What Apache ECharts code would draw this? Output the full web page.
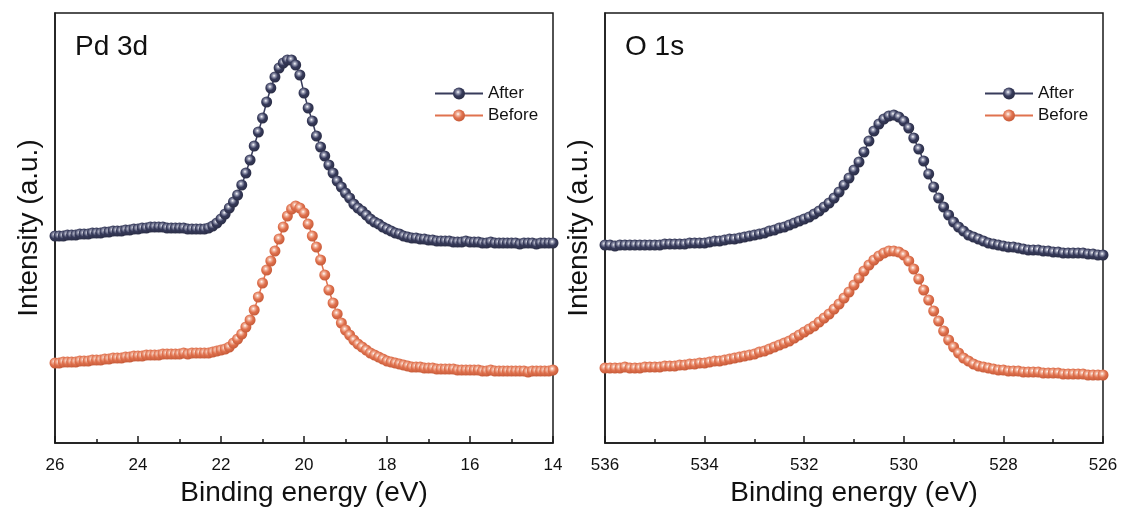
<!DOCTYPE html>
<html>
<head>
<meta charset="utf-8">
<script src="https://cdn.jsdelivr.net/npm/echarts@6/dist/echarts.min.js"></script>
<style>html,body{margin:0;padding:0;background:#fff}#chart{width:1123px;height:508px}</style>
</head>
<body>
<div id="chart"></div>
<script>
// Pd 3d panel: binding energy 26.0 -> 14.0 eV, step 0.1 eV
const pdStart = 26.0, pdStep = -0.1;
const pdAfter = [207,207,207,208,208,208,209,209,209,210,
 210,210,211,211,212,212,212,213,213,214,
 214,215,215,216,216,216,216,215,215,215,
 215,215,214,214,214,214,214,215,217,220,
 224,229,235,241,248,258,270,283,297,311,
 325,341,355,366,375,380,383,383,378,368,
 350,335,322,307,296,287,278,270,262,256,
 250,245,239,235,232,228,224,221,219,216,
 214,212,210,209,207,206,205,205,204,204,
 203,203,202,202,202,202,201,201,201,202,
 201,201,201,200,200,201,200,200,200,200,
 200,200,199,200,200,200,199,200,200,200,
 200];
const pdBefore = [80,80,81,81,81,81,82,82,82,83,
 83,83,84,84,85,85,85,86,86,87,
 87,87,88,88,88,88,89,89,89,89,
 89,90,89,90,90,90,90,90,91,92,
 93,94,96,100,104,109,116,123,133,146,
 160,173,182,192,204,216,227,234,237,235,
 230,219,207,196,183,168,153,140,129,120,
 113,108,103,99,96,93,90,88,86,84,
 82,81,80,79,78,77,76,76,76,75,
 75,75,74,74,74,74,74,73,73,73,
 73,73,73,72,72,73,72,72,72,72,
 72,72,72,72,71,72,72,72,72,72,
 73];
// O 1s panel: binding energy 536.0 -> 526.0 eV, step 0.1 eV
const oStart = 536.0, oStep = -0.1;
const oAfter = [198,198,197,198,198,198,198,198,198,198,
 198,198,199,199,199,199,199,200,200,200,
 200,201,202,202,203,204,204,205,206,207,
 208,209,210,212,213,215,216,218,220,222,
 224,226,229,232,236,240,245,251,258,265,
 273,281,291,302,312,319,324,327,328,326,
 322,315,305,294,282,269,256,245,236,228,
 221,216,212,208,206,204,202,200,199,198,
 197,196,196,195,194,193,193,193,192,192,
 191,191,190,190,190,190,190,189,189,188,
 188];
const oBefore = [75,75,75,75,76,75,75,75,76,76,
 76,76,77,77,77,78,78,79,79,80,
 80,81,82,82,83,84,85,86,87,88,
 89,91,92,94,96,98,100,102,105,108,
 111,114,117,121,125,129,134,139,145,151,
 158,165,172,178,183,187,190,192,192,191,
 188,182,174,164,153,143,132,122,112,103,
 96,90,85,82,79,77,76,75,74,73,
 73,72,72,72,71,71,71,71,70,70,
 70,70,69,69,69,69,69,68,68,68,
 68];
const panelTitles = ['Pd 3d', 'O 1s'];
const seriesNames = ['After', 'Before'];
const xRanges = [[14, 26], [526, 536]];

function pairs(start, step, vals) {
  return vals.map((v, i) => [+(start + i * step).toFixed(1), v]);
}

const NAVY = '#373b5b', ORANGE = '#e0724f';
function ball(base, light, dark) {
  return {type: 'radial', x: 0.42, y: 0.38, r: 0.62,
    colorStops: [{offset: 0, color: '#ffffff'}, {offset: 0.22, color: light},
                 {offset: 0.55, color: base}, {offset: 1, color: dark}]};
}
const navyBall = ball(NAVY, '#9a9db4', '#2a2d45');
const orangeBall = ball(ORANGE, '#f3b9a3', '#c65a38');
const FONT = 'Liberation Sans, Arial, sans-serif';
const gridLeft = [55, 605];

const chart = echarts.init(document.getElementById('chart'));
const grids = gridLeft.map(l => ({left: l, top: 13, width: 498, height: 430, show: true,
  borderColor: '#1a1a1a', borderWidth: 1.5, containLabel: false, outerBoundsMode: 'none'}));
const xAxes = xRanges.map((r, i) => ({type: 'value', gridIndex: i, min: r[0], max: r[1], interval: 2,
  inverse: true, name: 'Binding energy (eV)', nameLocation: 'middle', nameGap: 32,
  nameTextStyle: {fontFamily: FONT, fontSize: 28, color: '#111'},
  axisLine: {show: true, onZero: false, lineStyle: {color: '#1a1a1a', width: 1.5}},
  axisTick: {show: true, inside: true, length: 7, lineStyle: {color: '#1a1a1a', width: 1.5}},
  minorTick: {show: true, splitNumber: 2, length: 4, lineStyle: {color: '#1a1a1a', width: 1.5}},
  splitLine: {show: false}, minorSplitLine: {show: false},
  axisLabel: {margin: 14, fontFamily: FONT, fontSize: 17, color: '#111'}}));
const yAxes = [0, 1].map(i => ({type: 'value', gridIndex: i, min: 0, max: 430,
  name: 'Intensity (a.u.)', nameLocation: 'middle', nameGap: 12,
  nameTextStyle: {fontFamily: FONT, fontSize: 28, color: '#111'},
  axisLine: {show: true, lineStyle: {color: '#1a1a1a', width: 1.5}},
  axisTick: {show: false}, axisLabel: {show: false}, splitLine: {show: false}}));

function mk(name, i, data, color, fill) {
  return {name, type: 'line', xAxisIndex: i, yAxisIndex: i, data,
    symbol: 'circle', symbolSize: 11, showSymbol: true, showAllSymbol: true,
    lineStyle: {color, width: 1.5}, itemStyle: {color: fill}, emphasis: {disabled: true}};
}

chart.setOption({
  animation: false,
  title: panelTitles.map((t, i) => ({text: t, left: gridLeft[i] + 15, top: 28,
    textStyle: {fontFamily: FONT, fontSize: 28, fontWeight: 'normal', color: '#111'}})),
  legend: [0, 1].map(i => ({orient: 'vertical', left: gridLeft[i] + 374, top: 80,
    itemWidth: 48, itemHeight: 15, itemGap: 5, data: seriesNames,
    textStyle: {fontFamily: FONT, fontSize: 17, color: '#111'}})),
  grid: grids, xAxis: xAxes, yAxis: yAxes,
  series: [
    mk('After', 0, pairs(pdStart, pdStep, pdAfter), NAVY, navyBall),
    mk('Before', 0, pairs(pdStart, pdStep, pdBefore), ORANGE, orangeBall),
    mk('After', 1, pairs(oStart, oStep, oAfter), NAVY, navyBall),
    mk('Before', 1, pairs(oStart, oStep, oBefore), ORANGE, orangeBall)
  ]
});
</script>
</body>
</html>
